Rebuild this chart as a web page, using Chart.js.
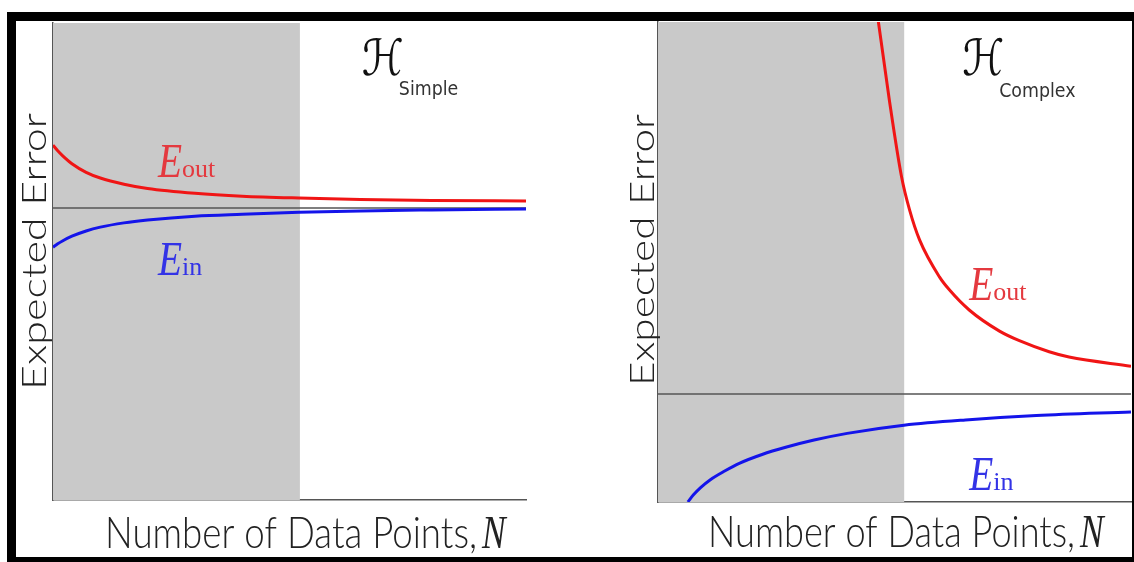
<!DOCTYPE html>
<html lang="en">
<head>
    <meta charset="UTF-8">
    <title>Expected Error vs Number of Data Points</title>
    <script src="https://cdn.jsdelivr.net/npm/chart.js@4.4.1/dist/chart.umd.min.js"></script>
    <style>
        * { margin: 0; padding: 0; }
        body { background: #fff; width: 1134px; height: 562px; overflow: hidden; }
        #frame {
            position: absolute; left: 7px; top: 12px;
            width: 1116px; height: 536px;
            border-style: solid; border-color: #000;
            border-width: 9px 2px 5px 9px;
            background: #fff;
        }
        canvas { position: absolute; top: 0; }
    </style>
</head>
<body>
<div id="frame">
    <canvas id="simpleChart" width="559" height="536" style="left:0"></canvas>
    <canvas id="complexChart" width="557" height="536" style="left:559px"></canvas>
</div>
<script>
    // x = number of data points (0..100), y = expected error (0..100)

    // H simple
    var simpleN = [0, 1, 2, 4, 7, 10, 15, 20, 30, 40, 52, 65, 80, 100];
    var simpleEout = [74.4, 73.2, 72.2, 70.5, 68.7, 67.5, 66.2, 65.3, 64.3, 63.7, 63.3, 63.0, 62.8, 62.7];
    var simpleEin = [53.0, 53.7, 54.3, 55.3, 56.4, 57.2, 58.1, 58.7, 59.5, 59.9, 60.3, 60.6, 60.8, 61.0];
    var simpleLevel = 61.2;
    var simpleShadeEnd = 52.2;

    // H complex
    var complexEoutN = [46.0, 46.6, 48.9, 51.5, 53.2, 55.3, 59.5, 61.6, 65.8, 72.2, 76.4, 82.7, 86.9, 100];
    var complexEout = [104.5, 100, 83.8, 67.7, 60.8, 54.6, 46.9, 44.2, 40.0, 35.6, 33.6, 31.3, 30.2, 28.3];
    var complexEinN = [6.3, 7.5, 9, 11, 14, 17.3, 22, 27, 33, 40, 52, 65, 80, 100];
    var complexEin = [0, 1.5, 3.0, 4.6, 6.4, 8.1, 9.9, 11.4, 12.9, 14.3, 16.0, 17.1, 18.0, 18.75];
    var complexLevel = 22.5;
    var complexShadeEnd = 52.1;

    var xTitle = 'Number of Data Points,';
    var xSymbol = 'N';
    var yTitle = 'Expected Error';

    function pts(xs, ys) {
        return xs.map(function (x, i) { return {x: x, y: ys[i]}; });
    }

    function drawText(ctx, str, font, color, x, y, sx) {
        ctx.save();
        ctx.font = font;
        ctx.fillStyle = color;
        ctx.textAlign = 'left';
        ctx.textBaseline = 'alphabetic';
        ctx.translate(x, y);
        ctx.scale(sx, 1);
        ctx.fillText(str, 0, 0);
        var w = ctx.measureText(str).width * sx;
        ctx.restore();
        return w;
    }

    function fitScale(ctx, str, font, width) {
        ctx.save();
        ctx.font = font;
        var w = ctx.measureText(str).width;
        ctx.restore();
        return width / w;
    }

    var sansFont = '300 44px Lato, "DejaVu Sans", sans-serif';
    var serifItalic = 'italic 48px "Liberation Serif", "DejaVu Serif", serif';
    var serifSub = '26px "Liberation Serif", "DejaVu Serif", serif';

    var textPlugin = {
        id: 'sketchText',
        afterDraw: function (chart, args, o) {
            var ctx = chart.ctx, a = chart.chartArea;
            var xs = chart.scales.x, ys = chart.scales.y;

            // x axis title
            var bx = a.left + o.xTitleStart, by = a.bottom + o.xTitleDrop;
            var sx = fitScale(ctx, xTitle, sansFont, o.xTitleWidth);
            var w = drawText(ctx, xTitle, sansFont, '#222', bx, by, sx);
            drawText(ctx, xSymbol, 'italic 46px "Liberation Serif", serif', '#222', bx + w + 5, by, 0.77);

            // y axis title (rotated)
            ctx.save();
            ctx.font = sansFont;
            ctx.fillStyle = '#222';
            ctx.textAlign = 'center';
            ctx.textBaseline = 'alphabetic';
            ctx.translate(a.left - o.yTitleGap, (a.top + a.bottom) / 2 + o.yTitleShift);
            ctx.rotate(-Math.PI / 2);
            ctx.scale(o.yTitleLength / ctx.measureText(yTitle).width, 0.78);
            ctx.fillText(yTitle, 0, 0);
            ctx.restore();

            // hypothesis set name
            var hx = xs.getPixelForValue(o.hName[0]), hy = ys.getPixelForValue(o.hName[1]);
            var hw = drawText(ctx, '\u210B', 'italic 50px "DejaVu Serif", "DejaVu Sans", serif', '#111', hx, hy, 0.85);
            drawText(ctx, o.hName[2], '20px "DejaVu Sans", sans-serif', '#333', hx + hw - 5, hy + o.hName[3], 0.87);

            // curve labels
            o.curveLabels.forEach(function (l) {
                var lx = xs.getPixelForValue(l.at[0]), ly = ys.getPixelForValue(l.at[1]);
                var ew = drawText(ctx, 'E', serifItalic, l.color, lx, ly, 0.82);
                drawText(ctx, l.sub, serifSub, l.color, lx + ew, ly, 1);
            });
        }
    };

    function makeChart(id, d) {
        return new Chart(document.getElementById(id), {
            type: 'line',
            data: {
                datasets: [
                    {label: 'Eout', data: pts(d.eoutN, d.eout), borderColor: '#f01515', borderWidth: 3,
                        pointRadius: 0, fill: false, cubicInterpolationMode: 'monotone', order: 1},
                    {label: 'Ein', data: pts(d.einN, d.ein), borderColor: '#1414ea', borderWidth: 3,
                        pointRadius: 0, fill: false, cubicInterpolationMode: 'monotone', order: 2},
                    {label: 'level', data: [{x: 0, y: d.level}, {x: 100, y: d.level}], borderColor: '#555',
                        borderWidth: 1.5, pointRadius: 0, fill: false, order: 3},
                    {label: 'shade', data: [{x: 0, y: 100}, {x: d.shadeEnd, y: 100}], borderColor: 'rgba(0,0,0,0)',
                        borderWidth: 0, backgroundColor: '#c9c9c9', pointRadius: 0, fill: 'start', order: 4}
                ]
            },
            options: {
                responsive: false,
                animation: false,
                events: [],
                layout: {padding: d.padding},
                scales: {
                    x: {type: 'linear', min: 0, max: 100,
                        grid: {drawOnChartArea: false, drawTicks: false},
                        ticks: {display: false},
                        border: {display: true, color: '#555', width: 1.5}},
                    y: {type: 'linear', min: 0, max: 100,
                        grid: {drawOnChartArea: false, drawTicks: false},
                        ticks: {display: false},
                        border: {display: true, color: '#555', width: 1.5}}
                },
                plugins: {
                    legend: {display: false},
                    tooltip: {enabled: false},
                    sketchText: d.text
                }
            },
            plugins: [textPlugin]
        });
    }

    makeChart('simpleChart', {
        eoutN: simpleN, eout: simpleEout, einN: simpleN, ein: simpleEin,
        level: simpleLevel, shadeEnd: simpleShadeEnd,
        padding: {left: 37, right: 49, top: 2, bottom: 57},
        text: {
            xTitleStart: 52, xTitleDrop: 48, xTitleWidth: 372,
            yTitleGap: 7, yTitleShift: -10, yTitleLength: 277,
            hName: [65.3, 89.1, 'Simple', 20],
            curveLabels: [
                {at: [22.2, 67.7], sub: 'out', color: '#e4393f'},
                {at: [22.2, 47.2], sub: 'in', color: '#3333e6'}
            ]
        }
    });

    makeChart('complexChart', {
        eoutN: complexEoutN, eout: complexEout, einN: complexEinN, ein: complexEin,
        level: complexLevel, shadeEnd: complexShadeEnd,
        padding: {left: 83, right: 1, top: 1, bottom: 55},
        text: {
            xTitleStart: 50, xTitleDrop: 45, xTitleWidth: 367,
            yTitleGap: 4, yTitleShift: -12, yTitleLength: 272,
            hName: [64.3, 89.0, 'Complex', 22],
            curveLabels: [
                {at: [65.8, 42.1], sub: 'out', color: '#e4393f'},
                {at: [65.8, 2.5], sub: 'in', color: '#3333e6'}
            ]
        }
    });
</script>
</body>
</html>
